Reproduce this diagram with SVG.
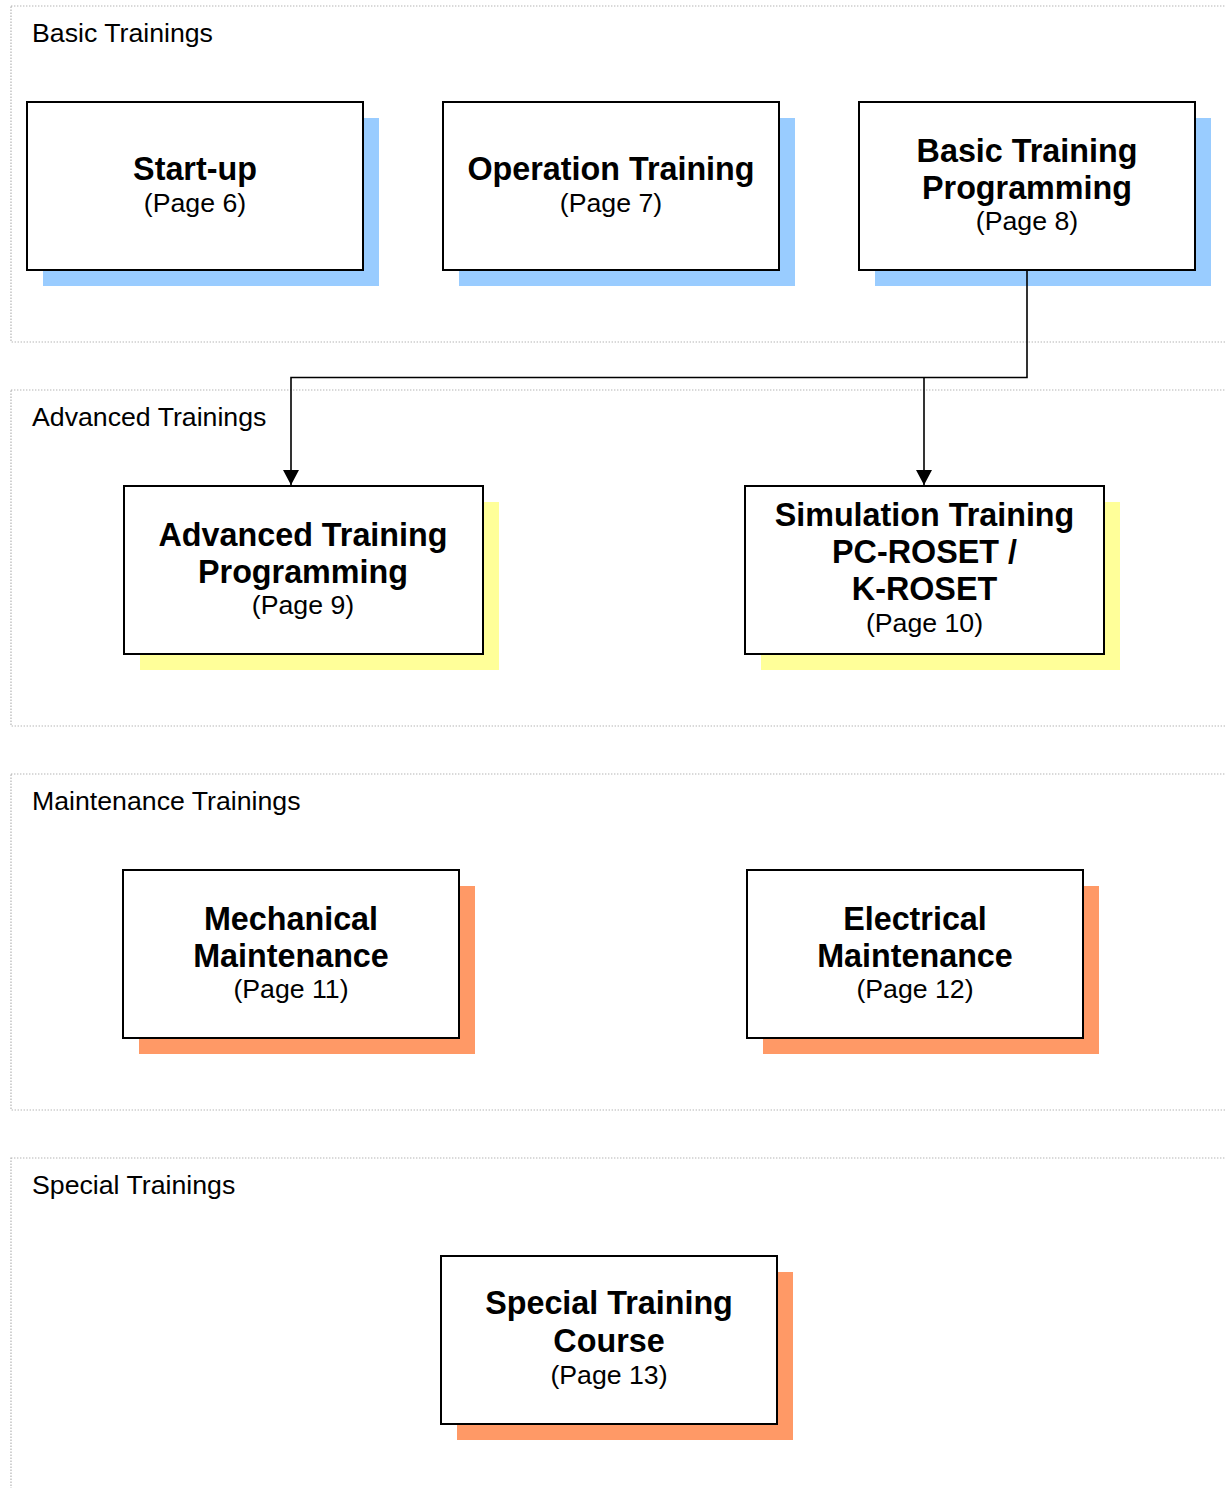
<svg xmlns="http://www.w3.org/2000/svg" width="1225" height="1488" viewBox="0 0 1225 1488">
<style>
.grp{fill:none;stroke:#b4b4b4;stroke-width:1.2;stroke-dasharray:1.4 1.6}
.glab{font-family:"Liberation Sans",Arial,sans-serif;font-size:26.7px;fill:#000}
.box{fill:#fff;stroke:#000;stroke-width:2}
.blue{fill:#99CCFF}
.yel{fill:#FFFF99}
.org{fill:#FF9966}
.t{font-family:"Liberation Sans",Arial,sans-serif;font-size:32.3px;font-weight:bold;text-anchor:middle;fill:#000}
.p{font-family:"Liberation Sans",Arial,sans-serif;font-size:26.7px;text-anchor:middle;fill:#000}
.conn{fill:none;stroke:#000;stroke-width:1.6}
</style>
<defs>
<marker id="arr" markerWidth="16" markerHeight="16" refX="15" refY="8" orient="auto" markerUnits="userSpaceOnUse">
<path d="M0,0 L15,8 L0,16 Z" fill="#000"/>
</marker>
</defs>
<rect width="1225" height="1488" fill="#fff"/>
<g id="groups">
<rect class="grp" x="11" y="6" width="1240" height="336"/>
<text class="glab" x="32" y="42">Basic Trainings</text>
<rect class="grp" x="11" y="390" width="1240" height="336"/>
<text class="glab" x="32" y="426">Advanced Trainings</text>
<rect class="grp" x="11" y="774" width="1240" height="336"/>
<text class="glab" x="32" y="810">Maintenance Trainings</text>
<rect class="grp" x="11" y="1158" width="1240" height="400"/>
<text class="glab" x="32" y="1194">Special Trainings</text>
</g>
<g id="node-startup">
<rect class="blue" x="43" y="118" width="336" height="168"/>
<rect class="box" x="27" y="102" width="336" height="168"/>
<text class="t" x="195" y="180">Start-up</text>
<text class="p" x="195" y="212">(Page 6)</text>
</g>
<g id="node-operation">
<rect class="blue" x="459" y="118" width="336" height="168"/>
<rect class="box" x="443" y="102" width="336" height="168"/>
<text class="t" x="611" y="180">Operation Training</text>
<text class="p" x="611" y="212">(Page 7)</text>
</g>
<g id="node-basicprog">
<rect class="blue" x="875" y="118" width="336" height="168"/>
<rect class="box" x="859" y="102" width="336" height="168"/>
<text class="t" x="1027" y="162">Basic Training</text>
<text class="t" x="1027" y="199">Programming</text>
<text class="p" x="1027" y="230">(Page 8)</text>
</g>
<g id="node-advprog">
<rect class="yel" x="140" y="502" width="359" height="168"/>
<rect class="box" x="124" y="486" width="359" height="168"/>
<text class="t" x="303" y="546">Advanced Training</text>
<text class="t" x="303" y="583">Programming</text>
<text class="p" x="303" y="614">(Page 9)</text>
</g>
<g id="node-simulation">
<rect class="yel" x="761" y="502" width="359" height="168"/>
<rect class="box" x="745" y="486" width="359" height="168"/>
<text class="t" x="924.5" y="526">Simulation Training</text>
<text class="t" x="924.5" y="563">PC-ROSET /</text>
<text class="t" x="924.5" y="600">K-ROSET</text>
<text class="p" x="924.5" y="632">(Page 10)</text>
</g>
<g id="node-mechanical">
<rect class="org" x="139" y="886" width="336" height="168"/>
<rect class="box" x="123" y="870" width="336" height="168"/>
<text class="t" x="291" y="930">Mechanical</text>
<text class="t" x="291" y="967">Maintenance</text>
<text class="p" x="291" y="998">(Page 11)</text>
</g>
<g id="node-electrical">
<rect class="org" x="763" y="886" width="336" height="168"/>
<rect class="box" x="747" y="870" width="336" height="168"/>
<text class="t" x="915" y="930">Electrical</text>
<text class="t" x="915" y="967">Maintenance</text>
<text class="p" x="915" y="998">(Page 12)</text>
</g>
<g id="node-special">
<rect class="org" x="457" y="1272" width="336" height="168"/>
<rect class="box" x="441" y="1256" width="336" height="168"/>
<text class="t" x="609" y="1314">Special Training</text>
<text class="t" x="609" y="1352">Course</text>
<text class="p" x="609" y="1384">(Page 13)</text>
</g>
<g id="connectors">
<path class="conn" d="M1027,271 V377.5 H291 V485" marker-end="url(#arr)"/>
<path class="conn" d="M924,377.5 V485" marker-end="url(#arr)"/>
</g>
</svg>
